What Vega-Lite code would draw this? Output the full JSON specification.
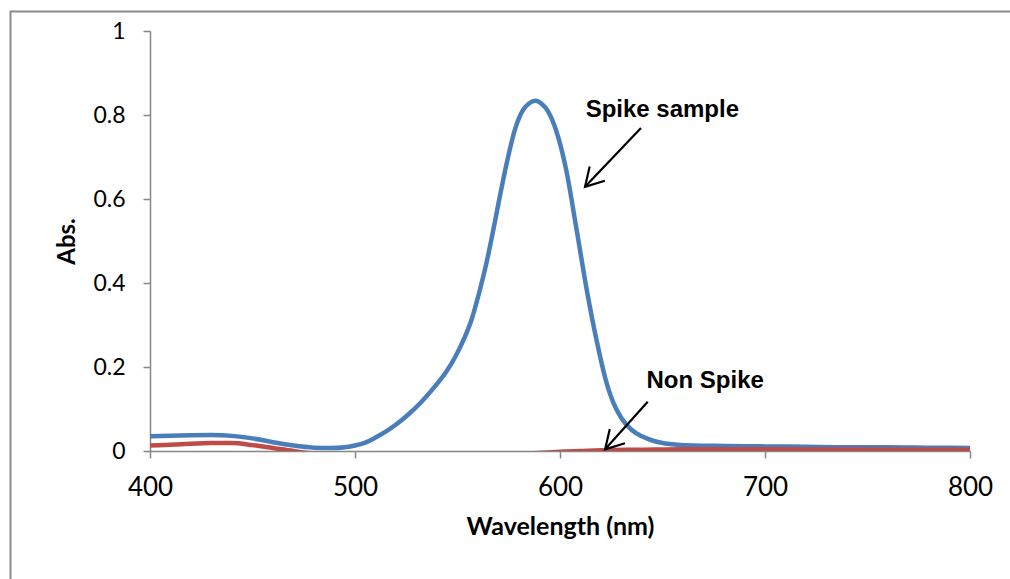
{
  "$schema": "https://vega.github.io/schema/vega-lite/v6.json",
  "width": 820,
  "height": 420,
  "autosize": "none",
  "padding": {"left": 150, "top": 31, "right": 40, "bottom": 128},
  "background": "white",
  "config": {"view": {"stroke": null}, "font": "Lato"},
  "datasets": {
    "spike": [
      {"wl": 400, "abs": 0.035}, {"wl": 415, "abs": 0.037}, {"wl": 430, "abs": 0.038}, {"wl": 440, "abs": 0.036},
      {"wl": 450, "abs": 0.030}, {"wl": 460, "abs": 0.021}, {"wl": 470, "abs": 0.013}, {"wl": 480, "abs": 0.008},
      {"wl": 488, "abs": 0.007}, {"wl": 495, "abs": 0.009}, {"wl": 500, "abs": 0.013}, {"wl": 505, "abs": 0.020},
      {"wl": 510, "abs": 0.032}, {"wl": 515, "abs": 0.046}, {"wl": 520, "abs": 0.063}, {"wl": 526, "abs": 0.087},
      {"wl": 532, "abs": 0.115}, {"wl": 538, "abs": 0.148}, {"wl": 544, "abs": 0.185}, {"wl": 549, "abs": 0.225},
      {"wl": 553, "abs": 0.265}, {"wl": 557, "abs": 0.315}, {"wl": 561, "abs": 0.385},
      {"wl": 564, "abs": 0.445}, {"wl": 567, "abs": 0.515}, {"wl": 570, "abs": 0.590}, {"wl": 574, "abs": 0.685},
      {"wl": 578, "abs": 0.765}, {"wl": 582, "abs": 0.812}, {"wl": 585, "abs": 0.828}, {"wl": 588, "abs": 0.834},
      {"wl": 591, "abs": 0.827}, {"wl": 594, "abs": 0.810}, {"wl": 598, "abs": 0.765}, {"wl": 603, "abs": 0.670},
      {"wl": 608, "abs": 0.530},
      {"wl": 613, "abs": 0.385}, {"wl": 618, "abs": 0.260}, {"wl": 622, "abs": 0.175}, {"wl": 626, "abs": 0.115},
      {"wl": 630, "abs": 0.078}, {"wl": 635, "abs": 0.050}, {"wl": 640, "abs": 0.035}, {"wl": 645, "abs": 0.025},
      {"wl": 650, "abs": 0.019}, {"wl": 657, "abs": 0.015}, {"wl": 665, "abs": 0.013}, {"wl": 680, "abs": 0.012},
      {"wl": 700, "abs": 0.011}, {"wl": 720, "abs": 0.010}, {"wl": 740, "abs": 0.009}, {"wl": 760, "abs": 0.009},
      {"wl": 780, "abs": 0.008}, {"wl": 800, "abs": 0.007}
    ],
    "nonspike": [
      {"wl": 400, "abs": 0.013}, {"wl": 415, "abs": 0.016}, {"wl": 430, "abs": 0.019}, {"wl": 440, "abs": 0.019},
      {"wl": 450, "abs": 0.014}, {"wl": 460, "abs": 0.007}, {"wl": 470, "abs": 0.000}, {"wl": 480, "abs": -0.006},
      {"wl": 500, "abs": -0.010}, {"wl": 520, "abs": -0.011}, {"wl": 540, "abs": -0.010}, {"wl": 560, "abs": -0.009},
      {"wl": 580, "abs": -0.007}, {"wl": 600, "abs": -0.002}, {"wl": 610, "abs": 0.000}, {"wl": 620, "abs": 0.002},
      {"wl": 640, "abs": 0.003}, {"wl": 660, "abs": 0.004}, {"wl": 700, "abs": 0.004}, {"wl": 750, "abs": 0.0035},
      {"wl": 800, "abs": 0.003}
    ],
    "labels": [
      {"wl": 612.5, "abs": 0.796, "text": "Spike sample"},
      {"wl": 642.2, "abs": 0.149, "text": "Non Spike"}
    ],
    "arrows": [
      {"wl": 639.5, "abs": 0.769, "wl2": 612.2, "abs2": 0.629},
      {"wl": 642.8, "abs": 0.117, "wl2": 622.0, "abs2": 0.004}
    ],
    "frame": [{"x1": 331.95, "x2": 900, "y1": 1.0464, "y2": -0.5}]
  },
  "layer": [
    {
      "data": {"name": "frame"},
      "mark": {"type": "rect", "fill": null, "stroke": "#8a8a8a", "strokeWidth": 2, "clip": false},
      "encoding": {
        "x": {"field": "x1", "type": "quantitative", "scale": {"domain": [400, 800]}},
        "x2": {"field": "x2"},
        "y": {"field": "y1", "type": "quantitative", "scale": {"domain": [0, 1]}},
        "y2": {"field": "y2"}
      }
    },
    {
      "data": {"name": "spike"},
      "mark": {"type": "line", "color": "#4A7EBB", "strokeWidth": 4.5, "interpolate": "monotone", "clip": true},
      "encoding": {
        "x": {
          "field": "wl", "type": "quantitative",
          "scale": {"domain": [400, 800], "nice": false, "zero": false},
          "axis": {
            "values": [400, 500, 600, 700, 800], "format": "d", "grid": false,
            "title": "Wavelength (nm)", "titleFontSize": 25, "titleFontWeight": "bold", "titleColor": "black",
            "titlePadding": 14, "titleFont": "Lato",
            "labelFontSize": 26, "labelColor": "black", "labelPadding": 16, "labelFont": "Lato",
            "domainColor": "#868686", "domainWidth": 1.5, "tickColor": "#868686", "tickWidth": 1.5, "tickSize": 7,
            "labelFlush": false, "labelOverlap": false
          }
        },
        "y": {
          "field": "abs", "type": "quantitative",
          "scale": {"domain": [0, 1], "nice": false},
          "axis": {
            "values": [0, 0.2, 0.4, 0.6, 0.8, 1], "format": "~g", "grid": false,
            "title": "Abs.", "titleFontSize": 24, "titleFontWeight": "bold", "titleColor": "black",
            "titlePadding": 13, "titleFont": "Lato",
            "labelFontSize": 23, "labelColor": "black", "labelPadding": 18, "labelFont": "Lato",
            "domainColor": "#868686", "domainWidth": 1.5, "tickColor": "#868686", "tickWidth": 1.5, "tickSize": 7,
            "labelFlush": false, "labelOverlap": false
          }
        }
      }
    },
    {
      "data": {"name": "nonspike"},
      "mark": {"type": "line", "color": "#BE4B48", "strokeWidth": 4.5, "interpolate": "monotone", "clip": true},
      "encoding": {
        "x": {"field": "wl", "type": "quantitative"},
        "y": {"field": "abs", "type": "quantitative"}
      }
    },
    {
      "data": {"name": "arrows"},
      "mark": {"type": "rule", "color": "black", "strokeWidth": 2.2},
      "encoding": {
        "x": {"field": "wl", "type": "quantitative"},
        "y": {"field": "abs", "type": "quantitative"},
        "x2": {"field": "wl2"},
        "y2": {"field": "abs2"}
      }
    },
    {
      "data": {"name": "arrows"},
      "mark": {"type": "point", "shape": "M -1 -0.577 L 0 0 L -1 0.577", "filled": false, "stroke": "black", "strokeWidth": 2.2, "size": 1296, "angle": 133, "opacity": 1},
      "encoding": {
        "x": {"field": "wl2", "type": "quantitative"},
        "y": {"field": "abs2", "type": "quantitative"}
      }
    },
    {
      "data": {"name": "labels"},
      "mark": {"type": "text", "font": "Liberation Sans", "fontWeight": "bold", "fontSize": 24, "align": "left", "baseline": "alphabetic", "color": "black"},
      "encoding": {
        "x": {"field": "wl", "type": "quantitative"},
        "y": {"field": "abs", "type": "quantitative"},
        "text": {"field": "text"}
      }
    }
  ]
}
